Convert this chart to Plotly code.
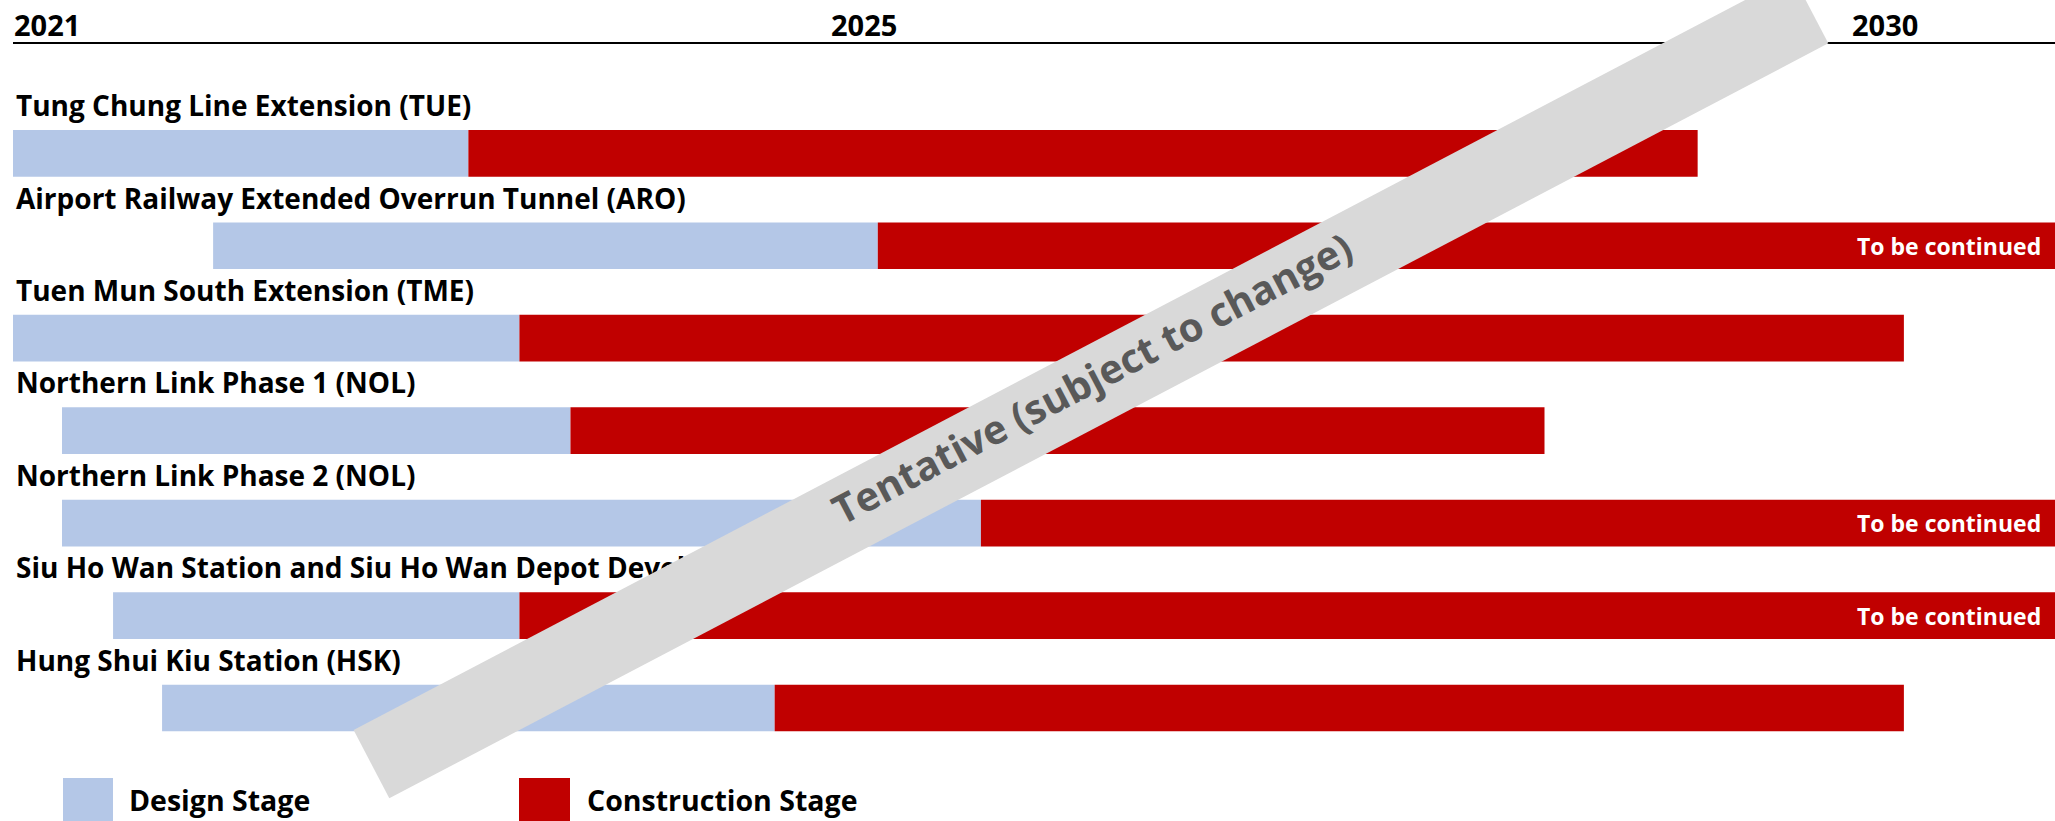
import plotly.graph_objects as go

# ---------------- data ----------------
projects = [
    "Tung Chung Line Extension (TUE)",
    "Airport Railway Extended Overrun Tunnel (ARO)",
    "Tuen Mun South Extension (TME)",
    "Northern Link Phase 1 (NOL)",
    "Northern Link Phase 2 (NOL)",
    "Siu Ho Wan Station and Siu Ho Wan Depot Development",
    "Hung Shui Kiu Station (HSK)",
]
design_start = [2021.0, 2021.98, 2021.0, 2021.24, 2021.24, 2021.49, 2021.73]
design_end = [2023.23, 2025.235, 2023.48, 2023.73, 2025.74, 2023.48, 2024.73]
construction_end = [2029.25, 2031.0, 2030.26, 2028.5, 2031.0, 2031.0, 2030.26]
to_be_continued = [False, True, False, False, True, True, False]

year_ticks = [2021, 2025, 2030]
year_labels = ["2021", "2025", "2030"]

legend_names = ["Design Stage", "Construction Stage"]
DESIGN_COLOR = "#B4C7E7"
CONSTR_COLOR = "#C00000"
BANNER_COLOR = "#D9D9D9"
BANNER_TEXT = "Tentative (subject to change)"

# ---------------- layout geometry (pixels) ----------------
FIG_W, FIG_H = 2055, 821
M_L, M_T, M_R, M_B = 13, 44, 0, 0
PW = FIG_W - M_L - M_R
PH = FIG_H - M_T - M_B


def px(x):
    return (x - M_L) / PW


def py(y):
    return (FIG_H - M_B - y) / PH


FONT = "Open Sans"

design_len = [e - s for s, e in zip(design_start, design_end)]
constr_len = [c - e for e, c in zip(design_end, construction_end)]

fig = go.Figure()
fig.add_trace(go.Bar(
    y=projects, x=design_len, base=design_start, orientation="h",
    marker=dict(color=DESIGN_COLOR, line=dict(width=0)), width=0.505,
    name=legend_names[0], showlegend=False, hoverinfo="skip",
))
fig.add_trace(go.Bar(
    y=projects, x=constr_len, base=design_end, orientation="h",
    marker=dict(color=CONSTR_COLOR, line=dict(width=0)), width=0.505,
    name=legend_names[1], showlegend=False, hoverinfo="skip",
))

annotations = []
for p, c, cont in zip(projects, construction_end, to_be_continued):
    if cont:
        annotations.append(dict(
            x=c, y=p, xref="x", yref="y", text="To be continued",
            showarrow=False, xanchor="right", yanchor="middle", xshift=-12,
            font=dict(family=FONT, size=23, color="white", weight=700),
        ))

# year labels (left-aligned at the year position, above the axis line)
for v, t in zip(year_ticks, year_labels):
    annotations.append(dict(
        x=v, y=py(25), xref="x", yref="paper", text=t,
        showarrow=False, xanchor="left", yanchor="middle", xshift=-1,
        font=dict(family=FONT, size=29, color="black", weight=700),
    ))

# banner (rotated grey band)
P0 = (353.6, 730.1)
P1 = (389.3, 798.3)
P2 = (1828.3, 43.3)
P3 = (1792.6, -24.9)
path = "M {} {} L {} {} L {} {} L {} {} Z".format(
    px(P0[0]), py(P0[1]), px(P1[0]), py(P1[1]),
    px(P2[0]), py(P2[1]), px(P3[0]), py(P3[1]))
shapes = [dict(type="path", path=path, xref="paper", yref="paper",
               fillcolor=BANNER_COLOR, line=dict(width=0), layer="above")]

annotations.append(dict(
    x=px(1092), y=py(378), xref="paper", yref="paper", text=BANNER_TEXT,
    showarrow=False, textangle=-27.6, xanchor="center", yanchor="middle",
    font=dict(family=FONT, size=40, color="#595959", weight=700),
))

# legend
for (x0, x1, tx), name, col in zip([(63, 113, 127), (519, 570, 585)], legend_names,
                                   [DESIGN_COLOR, CONSTR_COLOR]):
    shapes.append(dict(type="rect", xref="paper", yref="paper",
                       x0=px(x0), x1=px(x1), y0=py(828), y1=py(778),
                       fillcolor=col, line=dict(width=0), layer="above"))
    annotations.append(dict(
        x=px(tx), y=py(800), xref="paper", yref="paper", text=name,
        showarrow=False, xanchor="left", yanchor="middle",
        font=dict(family=FONT, size=28.5, color="black", weight=700),
    ))

# category centers at 153.3 + 92.45*i px from the top
top_idx = (M_T - 153.3) / 92.45
bot_idx = (FIG_H - M_B - 153.3) / 92.45

fig.update_layout(
    width=FIG_W, height=FIG_H,
    margin=dict(l=M_L, r=M_R, t=M_T, b=M_B, pad=0),
    paper_bgcolor="white", plot_bgcolor="white",
    barmode="overlay", showlegend=False,
    shapes=shapes, annotations=annotations,
    xaxis=dict(
        range=[2021, 2031], side="top", showgrid=False, zeroline=False,
        showline=True, linecolor="black", linewidth=1.5,
        showticklabels=False, ticks="",
        automargin=False, fixedrange=True,
    ),
    yaxis=dict(
        categoryorder="array", categoryarray=projects,
        range=[bot_idx, top_idx], showgrid=False, zeroline=False,
        showline=False, ticks="", ticklabelposition="inside",
        ticklabelshift=47,
        tickfont=dict(family=FONT, size=28, color="black", weight=700),
        automargin=False, fixedrange=True,
    ),
)

fig.write_html("out.html")
